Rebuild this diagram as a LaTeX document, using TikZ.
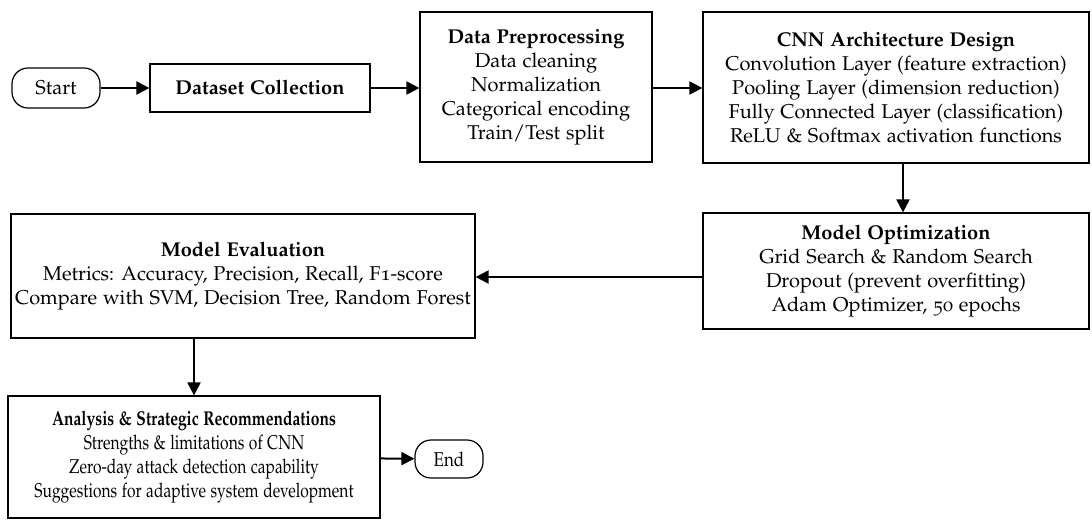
\documentclass[tikz,border=0pt]{standalone}
\usepackage[T1]{fontenc}
\usepackage[osf]{mathpazo}
\usepackage{tikz}
\usetikzlibrary{arrows.meta}

\begin{document}
\begin{tikzpicture}[x=0.5pt, y=-0.5pt, >={Triangle[length=6.5pt,width=6.5pt]},
  box/.style={draw, line width=0.6pt, align=center, inner sep=2pt},
  term/.style={draw, line width=0.6pt, rounded corners=8pt, inner sep=2pt},
  flow/.style={->, line width=1pt}]
  \useasboundingbox (0,0) rectangle (1092,520);

  % Top row
  \node[term, minimum width=44pt, minimum height=20pt] (start) at (56,88) {Start};
  \node[box, minimum width=110pt, minimum height=24pt] (collect) at (260,88) {\textbf{Dataset Collection}};
  \node[box, minimum width=116pt, minimum height=75pt] (prep) at (536,87)
    {\textbf{Data Preprocessing}\\Data cleaning\\Normalization\\Categorical encoding\\Train/Test split};
  \node[box, minimum width=193pt, minimum height=75.5pt] (cnn) at (896,87.5)
    {\textbf{CNN Architecture Design}\\Convolution Layer (feature extraction)\\Pooling Layer (dimension reduction)\\Fully Connected Layer (classification)\\ReLU \& Softmax activation functions};

  % Middle row
  \node[box, minimum width=193pt, minimum height=58pt] (opt) at (896,271)
    {\textbf{Model Optimization}\\Grid Search \& Random Search\\Dropout (prevent overfitting)\\Adam Optimizer, 50 epochs};
  \node[box, minimum width=232pt, minimum height=62pt] (eval) at (243,276)
    {\textbf{Model Evaluation}\\Metrics: Accuracy, Precision, Recall, F1-score\\Compare with SVM, Decision Tree, Random Forest};

  % Bottom row (text set narrow, as in the figure)
  \node[box, minimum width=186pt, minimum height=61pt] (analysis) at (194,457)
    {\scalebox{0.78}[1]{\textbf{Analysis \& Strategic Recommendations}}\\
     \scalebox{0.78}[1]{Strengths \& limitations of CNN}\\
     \scalebox{0.78}[1]{Zero-day attack detection capability}\\
     \scalebox{0.78}[1]{Suggestions for adaptive system development}};
  \node[term, minimum width=34pt, minimum height=19pt] (finish) at (449,459) {\scalebox{0.85}[1]{End}};

  % Connectors
  \draw[flow] (start) -- (collect);
  \draw[flow] (collect.east) -- (prep.west |- collect.east);
  \draw[flow] (prep.east |- collect.east) -- (cnn.west |- collect.east);
  \coordinate (cnnout) at (903,0);
  \draw[flow] (cnn.south -| cnnout) -- (opt.north -| cnnout);
  \draw[flow] (opt.west |- 0,277) -- (eval.east |- 0,277);
  \draw[flow] (eval.south) ++(-49,0) coordinate (evalout) -- (analysis.north -| evalout);
  \draw[flow] (analysis) -- (finish);
\end{tikzpicture}
\end{document}
